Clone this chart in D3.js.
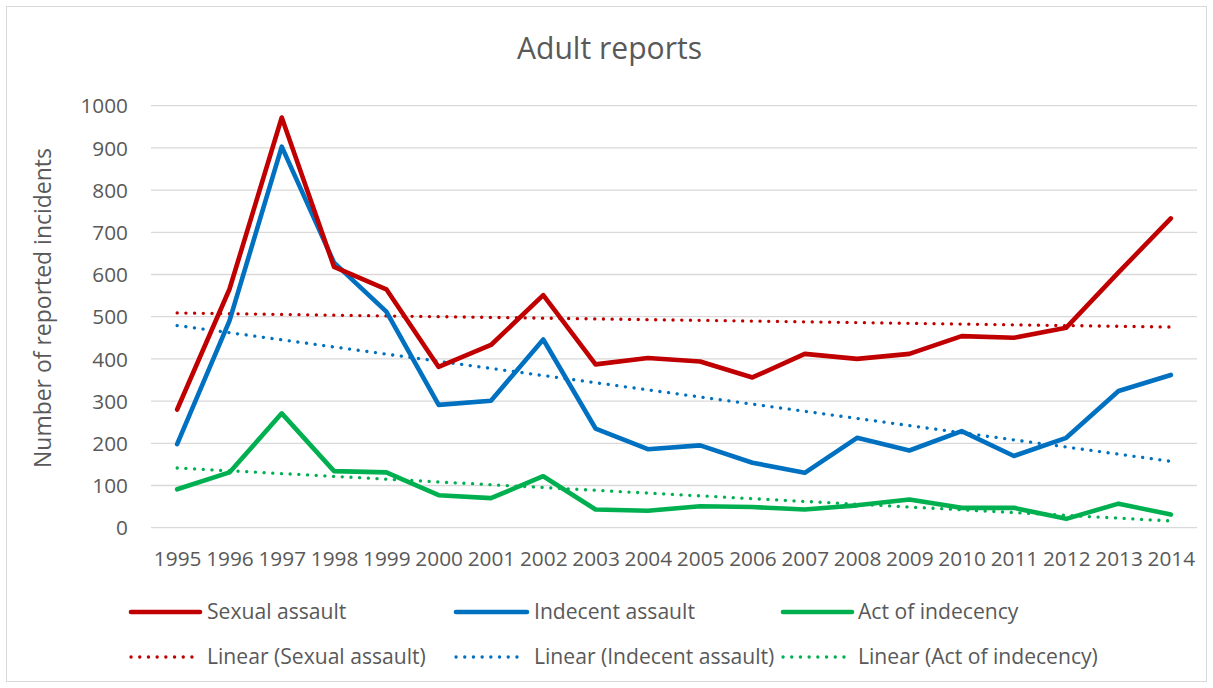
<!DOCTYPE html>
<html>
<head>
<meta charset="utf-8">
<script src="https://cdn.jsdelivr.net/npm/d3@7"></script>
<style>
  html, body { margin: 0; padding: 0; background: #fff; }
  svg { display: block; }
  text { font-family: "Open Sans", "Noto Sans", sans-serif; fill: #595959; }
</style>
</head>
<body>
<svg id="chart" width="1213" height="688"></svg>
<script>
// ---- Data ----
const years = ["1995","1996","1997","1998","1999","2000","2001","2002","2003","2004",
               "2005","2006","2007","2008","2009","2010","2011","2012","2013","2014"];
const sexualAssault   = [280, 565, 972, 618, 565, 381, 433, 551, 387, 402, 394, 356, 412, 400, 412, 454, 450, 474, 605, 733];
const indecentAssault = [198, 490, 903, 628, 512, 291, 301, 446, 235, 186, 195, 154, 130, 213, 183, 229, 170, 213, 324, 362];
const actOfIndecency  = [ 91, 131, 271, 134, 131,  77,  70, 122,  43,  40,  51,  49,  43,  53,  67,  47,  47,  21,  57,  31];
const yTicks = [0, 100, 200, 300, 400, 500, 600, 700, 800, 900, 1000];
const seriesNames = ["Sexual assault", "Indecent assault", "Act of indecency"];
const seriesColors = ["#C00000", "#0070C0", "#00B050"];
const titleText = "Adult reports";
const yAxisTitle = "Number of reported incidents";

// ---- Setup ----
const svg = d3.select("#chart");
const W = 1213, H = 688;

svg.append("rect")
  .attr("x", 6.5).attr("y", 6.5).attr("width", W - 13).attr("height", H - 13)
  .attr("fill", "#fff").attr("stroke", "#d9d9d9").attr("stroke-width", 1);

const plotL = 151, plotR = 1197, plotT = 105.7, plotB = 527.7;

const x = d3.scalePoint().domain(years).range([plotL, plotR]).padding(0.5);
const y = d3.scaleLinear().domain([0, 1000]).range([plotB, plotT]);

function fitWidth(sel, target) {
  const w = sel.node().getComputedTextLength();
  const fs = parseFloat(sel.attr("font-size"));
  const nfs = fs * target / w;
  sel.attr("font-size", nfs);
  return nfs;
}

// Title
const title = svg.append("text")
  .attr("x", (517 + 702) / 2).attr("y", 59)
  .attr("text-anchor", "middle").attr("font-size", 29)
  .text(titleText);
fitWidth(title, 185);

// Gridlines
const grid = svg.append("g");
grid.selectAll("line").data(yTicks).join("line")
  .attr("x1", plotL).attr("x2", plotR)
  .attr("y1", d => y(d)).attr("y2", d => y(d))
  .attr("stroke", "#d9d9d9").attr("stroke-width", 1.3);

const tickFs = 20.8;

// Y axis (labels only)
const yAxis = d3.axisLeft(y).tickValues(yTicks).tickSize(0).tickPadding(0).tickFormat(d3.format("d"));
const yG = svg.append("g").attr("transform", "translate(128,0)").call(yAxis);
yG.select(".domain").remove();
yG.selectAll("text").attr("font-size", tickFs).attr("fill", "#595959")
  .attr("font-family", "'Open Sans', 'Noto Sans', sans-serif").attr("dy", "0.35em");

// X axis (labels only)
const xAxis = d3.axisBottom(x).tickSize(0).tickPadding(0);
const xG = svg.append("g").attr("transform", "translate(0,551)").call(xAxis);
xG.select(".domain").remove();
xG.selectAll("text").attr("font-size", tickFs).attr("fill", "#595959")
  .attr("font-family", "'Open Sans', 'Noto Sans', sans-serif").attr("dy", "0.71em");

// Y axis title
const yt = svg.append("text")
  .attr("transform", "translate(51,308) rotate(-90)")
  .attr("text-anchor", "middle").attr("font-size", 19.5)
  .text(yAxisTitle);
fitWidth(yt, 320);

// Series
const allSeries = [sexualAssault, indecentAssault, actOfIndecency];

function linreg(vals) {
  const n = vals.length;
  const xs = d3.range(n);
  const mx = d3.mean(xs), my = d3.mean(vals);
  let num = 0, den = 0;
  xs.forEach((xi, i) => { num += (xi - mx) * (vals[i] - my); den += (xi - mx) * (xi - mx); });
  const b = num / den, a = my - b * mx;
  return [a, a + b * (n - 1)];
}

const line = d3.line().x((d, i) => x(years[i])).y(d => y(d));

// Trendlines
allSeries.forEach((vals, k) => {
  const [y0, y1] = linreg(vals);
  svg.append("line")
    .attr("x1", x(years[0])).attr("x2", x(years[years.length - 1]))
    .attr("y1", y(y0)).attr("y2", y(y1))
    .attr("stroke", seriesColors[k]).attr("stroke-width", 3.3)
    .attr("stroke-linecap", "round").attr("stroke-dasharray", "0.1 8.6");
});

// Main lines (draw green, blue, red so red on top like reference)
[2, 1, 0].forEach(k => {
  svg.append("path")
    .datum(allSeries[k])
    .attr("d", line)
    .attr("fill", "none")
    .attr("stroke", seriesColors[k])
    .attr("stroke-width", 4.6)
    .attr("stroke-linejoin", "round")
    .attr("stroke-linecap", "round");
});

// Legend
const legCols = [
  { lx0: 131, lx1: 200, tx: 207 },
  { lx0: 456, lx1: 527, tx: 534 },
  { lx0: 783, lx1: 852, tx: 858 }
];
const row1 = 612, row2 = 657;

// Determine legend font size from the widest entry
const probe = svg.append("text").attr("font-size", 20).text("Linear (" + seriesNames[2] + ")");
const legFs = fitWidth(probe, 240);
probe.remove();

seriesNames.forEach((name, k) => {
  const c = legCols[k];
  svg.append("line")
    .attr("x1", c.lx0).attr("x2", c.lx1).attr("y1", row1).attr("y2", row1)
    .attr("stroke", seriesColors[k]).attr("stroke-width", 4.6).attr("stroke-linecap", "round");
  svg.append("text").attr("x", c.tx).attr("y", row1).attr("dy", "0.35em")
    .attr("font-size", legFs).text(name);
  svg.append("line")
    .attr("x1", c.lx0).attr("x2", c.lx1 - 4).attr("y1", row2).attr("y2", row2)
    .attr("stroke", seriesColors[k]).attr("stroke-width", 3.3)
    .attr("stroke-linecap", "round").attr("stroke-dasharray", "0.1 8.6");
  svg.append("text").attr("x", c.tx).attr("y", row2).attr("dy", "0.35em")
    .attr("font-size", legFs).text("Linear (" + name + ")");
});
</script>
</body>
</html>
